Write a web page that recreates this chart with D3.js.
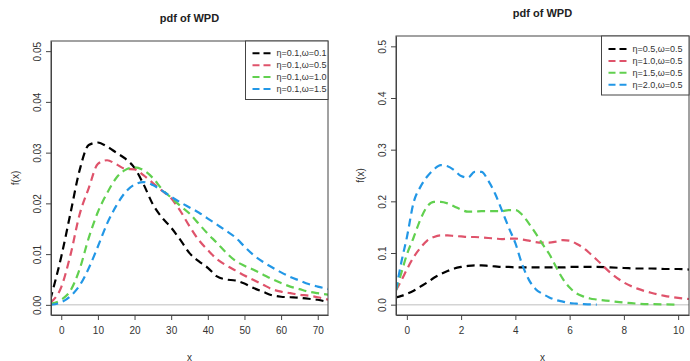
<!DOCTYPE html>
<html>
<head>
<meta charset="utf-8">
<script src="https://cdn.jsdelivr.net/npm/d3@7"></script>
<style>
  body { margin: 0; background: #fff; }
  text { font-family: "Liberation Sans", Arial, sans-serif; }
</style>
</head>
<body>
<div id="chart"></div>
<script>
// ---- data: left panel (eta fixed, omega varies) ----
const xLeft = [-3, 0, 2.5, 5, 7.5, 10, 12.5, 15, 17.5, 20, 22.5, 25, 27.5, 30, 32.5, 35, 37.5,
  40, 42.5, 45, 47.5, 50, 52.5, 55, 57.5, 60, 62.5, 65, 67.5, 70, 73];
const leftW01 = [0.001, 0.0095, 0.018, 0.0265, 0.0315, 0.032, 0.0312, 0.030, 0.0288, 0.027, 0.0237,
  0.0198, 0.0172, 0.0152, 0.0128, 0.0102, 0.0086, 0.0073, 0.0056, 0.0050, 0.0048, 0.0042, 0.0033,
  0.0026, 0.0019, 0.0016, 0.0015, 0.0014, 0.0012, 0.0010, 0.0005];
const leftW05 = [0.0004, 0.0035, 0.0098, 0.0178, 0.023, 0.0278, 0.0285, 0.0277, 0.0268, 0.0267, 0.0255,
  0.024, 0.0225, 0.021, 0.0185, 0.0155, 0.0128, 0.0108, 0.009, 0.0078, 0.0068, 0.0058, 0.0049,
  0.004, 0.0031, 0.0026, 0.0023, 0.002, 0.0018, 0.0015, 0.001];
const leftW10 = [0.0002, 0.001, 0.0028, 0.007, 0.0132, 0.0183, 0.022, 0.025, 0.0266, 0.0271, 0.0265,
  0.025, 0.0228, 0.0211, 0.0195, 0.018, 0.016, 0.014, 0.0122, 0.0103, 0.0087, 0.0077, 0.0069,
  0.006, 0.0051, 0.0043, 0.0036, 0.0031, 0.0026, 0.0023, 0.002];
const leftW15 = [0, 0.0005, 0.0017, 0.0038, 0.0072, 0.0115, 0.016, 0.0195, 0.0222, 0.0237, 0.0242,
  0.0236, 0.0225, 0.0213, 0.0202, 0.0192, 0.0182, 0.017, 0.0158, 0.0146, 0.0133, 0.0115, 0.0098,
  0.0085, 0.0074, 0.0064, 0.0055, 0.0048, 0.0041, 0.0036, 0.0031];
const leftLabels = ["\u03b7=0.1,\u03c9=0.1", "\u03b7=0.1,\u03c9=0.5", "\u03b7=0.1,\u03c9=1.0", "\u03b7=0.1,\u03c9=1.5"];
const leftXTicks = [0, 10, 20, 30, 40, 50, 60, 70];
const leftYTicks = [0, 0.01, 0.02, 0.03, 0.04, 0.05];

// ---- data: right panel (omega fixed, eta varies) ----
const xRight = [-0.4, -0.2, 0, 0.25, 0.5, 0.75, 1, 1.25, 1.5, 1.75, 2, 2.25, 2.5, 2.75, 3, 3.25, 3.5,
  3.75, 4, 4.25, 4.5, 4.75, 5, 5.25, 5.5, 5.75, 6, 6.25, 6.5, 6.75, 7, 7.5, 8, 8.5, 9, 9.5, 10, 10.4];
const rightE05 = [0.014, 0.017, 0.021, 0.027, 0.035, 0.043, 0.052, 0.059, 0.065, 0.07, 0.073, 0.075,
  0.076, 0.076, 0.075, 0.074, 0.073, 0.073, 0.072, 0.072, 0.072, 0.072, 0.072, 0.072, 0.072, 0.072,
  0.073, 0.073, 0.073, 0.073, 0.073, 0.072, 0.071, 0.070, 0.070, 0.069, 0.069, 0.068];
const rightE10 = [0.028, 0.047, 0.068, 0.092, 0.110, 0.124, 0.131, 0.134, 0.134, 0.133, 0.132, 0.131,
  0.131, 0.130, 0.129, 0.128, 0.127, 0.128, 0.128, 0.126, 0.124, 0.121, 0.120, 0.120, 0.122, 0.125,
  0.124, 0.118, 0.110, 0.099, 0.087, 0.062, 0.043, 0.031, 0.023, 0.017, 0.013, 0.011];
const rightE15 = [0.028, 0.062, 0.097, 0.130, 0.165, 0.190, 0.199, 0.199, 0.196, 0.190, 0.184, 0.180,
  0.180, 0.181, 0.181, 0.181, 0.181, 0.183, 0.183, 0.174, 0.157, 0.138, 0.117, 0.098, 0.073, 0.050,
  0.033, 0.022, 0.016, 0.012, 0.010, 0.007, 0.004, 0.002, 0.001, 0.0005, 0, null];
const rightE20 = [0.028, 0.083, 0.130, 0.198, 0.228, 0.248, 0.262, 0.270, 0.268, 0.260, 0.249, 0.246,
  0.257, 0.257, 0.240, 0.215, 0.183, 0.150, 0.119, 0.078, 0.048, 0.030, 0.021, 0.014, 0.009, 0.006,
  0.003, 0.002, 0.001, 0.0005, 0, null, null, null, null, null, null, null];
const rightLabels = ["\u03b7=0.5,\u03c9=0.5", "\u03b7=1.0,\u03c9=0.5", "\u03b7=1.5,\u03c9=0.5", "\u03b7=2.0,\u03c9=0.5"];
const rightXTicks = [0, 2, 4, 6, 8, 10];
const rightYTicks = [0, 0.1, 0.2, 0.3, 0.4, 0.5];

const colors = ["#000000", "#DF536B", "#61D04F", "#2297E6"];

const width = 690;
const height = 361;

const svg = d3.select("#chart").append("svg")
  .attr("width", width)
  .attr("height", height);

// draws one R-style base graphics panel
function drawPanel(cfg) {
  const x = d3.scaleLinear().domain(cfg.xlim).range([cfg.left, cfg.right]);
  const y = d3.scaleLinear().domain(cfg.ylim).range([cfg.bottom, cfg.top]);
  const g = svg.append("g");

  const clipId = "clip-" + cfg.id;
  g.append("clipPath").attr("id", clipId)
    .append("rect")
    .attr("x", cfg.left).attr("y", cfg.top)
    .attr("width", cfg.right - cfg.left).attr("height", cfg.bottom - cfg.top);

  // zero reference line
  g.append("line")
    .attr("x1", cfg.left).attr("x2", cfg.right)
    .attr("y1", y(0)).attr("y2", y(0))
    .attr("stroke", "#d4d4d4").attr("stroke-width", 1.5);

  // curves
  const line = d3.line()
    .defined(d => d[1] !== null)
    .x(d => x(d[0]))
    .y(d => y(d[1]))
    .curve(d3.curveMonotoneX);

  const curves = g.append("g").attr("clip-path", `url(#${clipId})`);
  cfg.series.forEach((ys, i) => {
    curves.append("path")
      .datum(cfg.xs.map((v, j) => [v, ys[j]]))
      .attr("d", line)
      .attr("fill", "none")
      .attr("stroke", colors[i])
      .attr("stroke-width", 2.2)
      .attr("stroke-dasharray", "8,5");
  });

  // axes
  const xAxis = d3.axisBottom(x).tickValues(cfg.xticks).tickSize(5).tickSizeOuter(0)
    .tickFormat(d3.format("d"));
  const gx = g.append("g").attr("transform", `translate(0,${cfg.bottom})`).call(xAxis);
  gx.selectAll("text").attr("font-size", 10).attr("fill", "#333").attr("dy", "1.05em")
    .attr("font-family", "Liberation Sans, Arial, sans-serif");

  const yAxis = d3.axisLeft(y).tickValues(cfg.yticks).tickSize(5).tickSizeOuter(0)
    .tickFormat(d3.format(cfg.yfmt));
  const gy = g.append("g").attr("transform", `translate(${cfg.left},0)`).call(yAxis);
  gy.selectAll("text")
    .attr("font-size", 10).attr("fill", "#333")
    .attr("font-family", "Liberation Sans, Arial, sans-serif")
    .attr("text-anchor", "middle")
    .attr("x", 0).attr("dy", 0)
    .attr("transform", "translate(-14,0) rotate(-90)")
    .attr("dominant-baseline", "central");
  [gx, gy].forEach(a => {
    a.selectAll("path, line").attr("stroke", "#444");
  });

  // plot box
  g.append("rect")
    .attr("x", cfg.left).attr("y", cfg.top)
    .attr("width", cfg.right - cfg.left).attr("height", cfg.bottom - cfg.top)
    .attr("fill", "none").attr("stroke", "#444").attr("stroke-width", 1);

  // titles
  const cx = (cfg.left + cfg.right) / 2;
  g.append("text")
    .attr("x", cx).attr("y", cfg.titleY)
    .attr("text-anchor", "middle").attr("dominant-baseline", "central")
    .attr("font-size", 11).attr("font-weight", "bold").attr("fill", "#222")
    .text("pdf of WPD");
  g.append("text")
    .attr("x", cx).attr("y", 357)
    .attr("text-anchor", "middle").attr("dominant-baseline", "central")
    .attr("font-size", 10).attr("fill", "#333")
    .text("x");
  g.append("text")
    .attr("transform", `translate(${cfg.left - 36},${(cfg.top + cfg.bottom) / 2}) rotate(-90)`)
    .attr("text-anchor", "middle").attr("dominant-baseline", "central")
    .attr("font-size", 10).attr("fill", "#333")
    .text("f(x)");

  // legend
  const lg = g.append("g").attr("transform", `translate(${cfg.legendX},${cfg.top})`);
  lg.append("rect")
    .attr("x", 0).attr("y", 0)
    .attr("width", cfg.right - cfg.legendX).attr("height", cfg.legendH)
    .attr("fill", "#fff").attr("stroke", "#444").attr("stroke-width", 1);
  cfg.labels.forEach((lab, i) => {
    const ry = cfg.legendRow0 + i * 11.9;
    lg.append("line")
      .attr("x1", 7).attr("x2", 25).attr("y1", ry).attr("y2", ry)
      .attr("stroke", colors[i]).attr("stroke-width", 2)
      .attr("stroke-dasharray", "7,4");
    lg.append("text")
      .attr("x", 31).attr("y", ry)
      .attr("dominant-baseline", "central")
      .attr("font-size", 9).attr("fill", "#333")
      .text(lab);
  });
}

drawPanel({
  id: "left",
  left: 51, right: 328, top: 41, bottom: 315,
  xlim: [-2.8, 72.8], ylim: [-0.002, 0.052],
  xs: xLeft, series: [leftW01, leftW05, leftW10, leftW15],
  xticks: leftXTicks, yticks: leftYTicks, yfmt: ".2f",
  labels: leftLabels, titleY: 18,
  legendX: 245.5, legendH: 58.5, legendRow0: 12.3
});

drawPanel({
  id: "right",
  left: 396, right: 689, top: 36, bottom: 315,
  xlim: [-0.4, 10.4], ylim: [-0.02, 0.52],
  xs: xRight, series: [rightE05, rightE10, rightE15, rightE20],
  xticks: rightXTicks, yticks: rightYTicks, yfmt: ".1f",
  labels: rightLabels, titleY: 12.5,
  legendX: 601.5, legendH: 59, legendRow0: 13
});
</script>
</body>
</html>
